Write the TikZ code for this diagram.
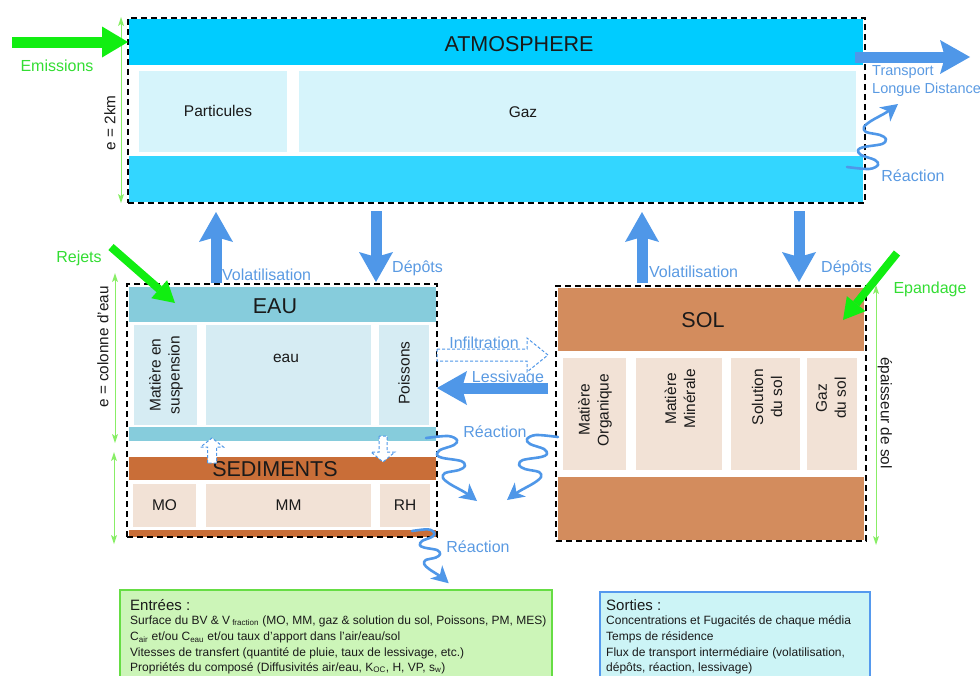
\documentclass[tikz,border=0pt]{standalone}
\usepackage{fontspec}
\setmainfont{Liberation Sans}
\usetikzlibrary{arrows.meta}
\definecolor{atmA}{HTML}{00CCFF}
\definecolor{atmB}{HTML}{33D6FF}
\definecolor{atmSub}{HTML}{D6F4FB}
\definecolor{eauA}{HTML}{86CCDC}
\definecolor{eauSub}{HTML}{D6ECF3}
\definecolor{sedA}{HTML}{C96E38}
\definecolor{sedSub}{HTML}{F2E2D6}
\definecolor{solA}{HTML}{D38C5D}
\definecolor{flow}{HTML}{4F97E8}
\definecolor{flowTxt}{HTML}{5A9AE2}
\definecolor{grA}{HTML}{11EE11}
\definecolor{grTxt}{HTML}{33DD33}
\definecolor{grLine}{HTML}{88EE66}
\definecolor{inBox}{HTML}{CCF5B8}
\definecolor{inEdge}{HTML}{66DD44}
\definecolor{outBox}{HTML}{CCF4F6}
\definecolor{outEdge}{HTML}{5599EE}
\definecolor{ink}{HTML}{1A1A1A}
\begin{document}
\begin{tikzpicture}[x=1pt,y=-1pt,
  fbox/.style={inner sep=0pt, outer sep=0pt, draw=none, text=ink},
  frame/.style={draw=black, line width=2.4pt, dash pattern=on 6pt off 4pt, fill=none, inner sep=0pt, outer sep=0pt},
  big/.style={font=\fontsize{21.5}{24}\selectfont, text=ink, inner sep=0pt},
  sub/.style={font=\fontsize{15.5}{19}\selectfont, align=center, text=ink},
  flab/.style={font=\fontsize{16}{19}\selectfont, text=flowTxt, inner sep=0pt},
  tlab/.style={font=\fontsize{14.5}{17}\selectfont, text=flowTxt, inner sep=0pt},
  glab/.style={font=\fontsize{16}{19}\selectfont, text=grTxt, inner sep=0pt},
  dlab/.style={font=\fontsize{15.3}{18}\selectfont, text=ink, inner sep=0pt},
  bigflow/.style={draw=flow, line width=11pt, -{Stealth[length=30pt 0 0, width=34pt 0 0, inset=5pt 0, line width=0pt 0 0]}},
  grarrow/.style={draw=grA, line width=11pt, -{Triangle[length=26pt 0 0, width=31pt 0 0, line width=0pt 0 0]}},
  grsmall/.style={draw=grA, line width=8pt, -{Triangle[length=21pt 0 0, width=24pt 0 0, line width=0pt 0 0]}},
  dimline/.style={draw=grLine, line width=1pt, {Stealth[length=9pt 0 0, width=6pt 0 0, inset=2pt 0, line width=0pt 0 0]}-{Stealth[length=9pt 0 0, width=6pt 0 0, inset=2pt 0, line width=0pt 0 0]}},
  hollow/.style={draw=flow, line width=1pt, dash pattern=on 3pt off 2pt, fill=white},
  squig/.style={draw=flow, line width=2.6pt, line join=round, line cap=round, -{Stealth[length=17pt 0 0, width=18pt 0 0, inset=5pt 0, line width=0pt 0 0]}},
  meander/.pic={\draw[squig] plot[smooth, tension=0.55] coordinates {(0,0) (22,-2) (31,2) (28,7) (14,12) (11,17) (17,20) (35,23) (39,28) (33,32) (19,35) (17,40) (24,46) (40,55) (51,63)};},
  boxtxt/.style={font=\fontsize{12}{14}\selectfont, text=ink, inner sep=0pt, anchor=base west},
  boxtitle/.style={font=\fontsize{15}{18}\selectfont, text=ink, inner sep=0pt, anchor=base west}
]
\useasboundingbox (0,0) rectangle (980,675);

% ---------------- ATMOSPHERE ----------------
\node[fbox, fill=atmA, minimum width=734pt, minimum height=46pt] (atmTop) at (496,42) {};
\node[fbox, fill=atmSub, minimum width=148pt, minimum height=81pt] (part) at (213,111.5) {};
\node[fbox, fill=atmSub, minimum width=557pt, minimum height=81pt] (gaz) at (577.5,111.5) {};
\node[fbox, fill=atmB, minimum width=734pt, minimum height=46pt] (atmBot) at (496,179) {};
\node[frame, minimum width=737pt, minimum height=185pt] (atm) at (496.5,110.5) {};
\node[big] (tAtm) at (519,44) {ATMOSPHERE};
\node[sub] (tPart) at (218,111) {Particules};
\node[sub] (tGaz) at (523,112) {Gaz};

% ---------------- EAU / SEDIMENTS ----------------
\node[fbox, fill=eauA, minimum width=307pt, minimum height=35pt] (eauTop) at (282.5,304.5) {};
\node[fbox, fill=eauSub, minimum width=63pt, minimum height=100pt] (mes) at (165.5,375) {};
\node[fbox, fill=eauSub, minimum width=165pt, minimum height=100pt] (eauW) at (288.5,375) {};
\node[fbox, fill=eauSub, minimum width=50pt, minimum height=100pt] (poi) at (404,375) {};
\node[fbox, fill=eauA, minimum width=307pt, minimum height=14pt] (eauBot) at (282.5,434) {};
\node[fbox, fill=sedA, minimum width=307pt, minimum height=23pt] (sedTop) at (282.5,468.5) {};
\node[fbox, sub, fill=sedSub, minimum width=63pt, minimum height=43pt] (sMO) at (164.5,505.5) {MO};
\node[fbox, sub, fill=sedSub, minimum width=165pt, minimum height=43pt] (sMM) at (288.5,505.5) {MM};
\node[fbox, sub, fill=sedSub, minimum width=50pt, minimum height=43pt] (sRH) at (405,505.5) {RH};
\node[fbox, fill=sedA, minimum width=307pt, minimum height=7pt] (sedBot) at (282.5,533.5) {};
\node[frame, minimum width=310pt, minimum height=253pt] (eauF) at (282,410.5) {};
\node[big] (tEau) at (275,306) {EAU};
\node[big] (tSed) at (275,469) {SEDIMENTS};
\node[sub, rotate=90] (tMes) at (166,375) {Matière en\\suspension};
\node[sub] (tEauW) at (286,358) {eau};
\node[sub, rotate=90] (tPoi) at (404,373) {Poissons};

% ---------------- SOL ----------------
\node[fbox, fill=solA, minimum width=306pt, minimum height=63pt] (solTop) at (711,319.5) {};
\node[fbox, fill=sedSub, minimum width=63pt, minimum height=112pt] (solMO) at (594.5,414) {};
\node[fbox, fill=sedSub, minimum width=86pt, minimum height=112pt] (solMM) at (679,414) {};
\node[fbox, fill=sedSub, minimum width=69pt, minimum height=112pt] (solSo) at (765.5,414) {};
\node[fbox, fill=sedSub, minimum width=50pt, minimum height=112pt] (solGa) at (832,414) {};
\node[fbox, fill=solA, minimum width=306pt, minimum height=63pt] (solBot) at (711,508.5) {};
\node[frame, minimum width=310pt, minimum height=255pt] (solF) at (711,413.5) {};
\node[big] (tSol) at (703,320) {SOL};
\node[sub, rotate=90] (tSMO) at (595,410) {Matière\\Organique};
\node[sub, rotate=90] (tSMM) at (680,399) {Matière\\Minérale};
\node[sub, rotate=90] (tSSo) at (767,397) {Solution\\du sol};
\node[sub, rotate=90] (tSGa) at (831,398) {Gaz\\du sol};

% ---------------- dimension lines ----------------
\coordinate (d1a) at (121,17);  \coordinate (d1b) at (121,203);
\draw[dimline] (d1a) -- (d1b);
\node[dlab, rotate=90] (tD1) at (110,123) {e = 2km};
\coordinate (d2a) at (115,273); \coordinate (d2b) at (115,443);
\draw[dimline] (d2a) -- (d2b);
\node[dlab, rotate=90] (tD2) at (103,347) {e = colonne d'eau};
\coordinate (d3a) at (114,452); \coordinate (d3b) at (114,544);
\draw[dimline] (d3a) -- (d3b);
\coordinate (d4a) at (876,285); \coordinate (d4b) at (876,545);
\draw[dimline] (d4a) -- (d4b);
\node[dlab, rotate=-90] (tD4) at (885,413) {épaisseur de sol};

% ---------------- green inputs ----------------
\coordinate (emS) at (12,42); \coordinate (emE) at (128,42);
\draw[grarrow] (emS) -- (emE);
\node[glab] (tEm) at (57,66) {Emissions};
\coordinate (rjS) at (111,247); \coordinate (rjE) at (175,303);
\draw[grsmall] (rjS) -- (rjE);
\node[glab] (tRj) at (79,258) {Rejets};
\coordinate (epS) at (897,253); \coordinate (epE) at (843,320);
\draw[grsmall] (epS) -- (epE);
\node[glab] (tEp) at (930,289) {Epandage};

% ---------------- blue flows ----------------
\coordinate (v1a) at (216,283); \coordinate (v1b) at (216,212);
\draw[bigflow] (v1a) -- (v1b);
\node[flab, anchor=west] (tV1) at (222,275) {Volatilisation};
\coordinate (p1a) at (376,211); \coordinate (p1b) at (376,282);
\draw[bigflow] (p1a) -- (p1b);
\node[flab, anchor=west] (tP1) at (392,268) {Dépôts};
\coordinate (v2a) at (642,283); \coordinate (v2b) at (642,212);
\draw[bigflow] (v2a) -- (v2b);
\node[flab, anchor=west] (tV2) at (649,272) {Volatilisation};
\coordinate (p2a) at (799,211); \coordinate (p2b) at (799,282);
\draw[bigflow] (p2a) -- (p2b);
\node[flab, anchor=west] (tP2) at (821,268) {Dépôts};

\coordinate (trA) at (855,57); \coordinate (trB) at (970,57);
\draw[bigflow] (trA) -- (trB);
\node[tlab, anchor=west] (tTr1) at (872,72) {Transport};
\node[tlab, anchor=west] (tTr2) at (872,90) {Longue Distance};

\coordinate (lsA) at (548,388); \coordinate (lsB) at (437,388);
\draw[bigflow] (lsA) -- (lsB);
\node[flab] (tLs) at (508,378) {Lessivage};

% Infiltration (hollow dashed)
\coordinate (inf) at (437,355);
\draw[hollow] (inf) ++(0,-6) -- ++(90,0) -- ++(0,-11) -- ++(21,17) -- ++(-21,17) -- ++(0,-11) -- ++(-90,0) -- cycle;
\node[flab] (tInf) at (484,343) {Infiltration};

% sediment exchange (hollow dashed)
\coordinate (sxU) at (212,463);
\draw[hollow] (sxU) ++(-4.5,0) -- ++(0,-16) -- ++(-7,0) -- ++(11.5,-9) -- ++(11.5,9) -- ++(-7,0) -- ++(0,16) -- cycle;
\coordinate (sxD) at (383,436);
\draw[hollow] (sxD) ++(-4,0) -- ++(0,16) -- ++(-8,0) -- ++(12,10) -- ++(12,-10) -- ++(-8,0) -- ++(0,-16) -- cycle;

% ---------------- reactions ----------------
\coordinate (r1) at (426,438);
\pic[shift={(r1)}] {meander};
\coordinate (r2) at (558,437);
\pic[shift={(r2)}, xscale=-1] {meander};
\node[flab] (tR1) at (495,432) {Réaction};
\coordinate (r3) at (412,531);
\pic[shift={(r3)}, xscale=0.72, yscale=0.83] {meander};
\node[flab] (tR3) at (478,547) {Réaction};
\coordinate (r4) at (847,167);
\pic[shift={(r4)}, yscale=-1] {meander};
\node[flab] (tR4) at (913,176) {Réaction};

% ---------------- input / output boxes ----------------
\node[draw=inEdge, line width=2.5pt, fill=inBox, minimum width=432pt, minimum height=95pt, inner sep=0pt] (inB) at (336,637.5) {};
\node[boxtitle] (inT) at (130,610) {Entrées :};
\node[boxtxt] (in1) at (130,624) {Surface du BV \& V\,\textsubscript{fraction} (MO, MM, gaz \& solution du sol, Poissons, PM, MES)};
\node[boxtxt] (in2) at (130,640.5) {C\textsubscript{air} et/ou C\textsubscript{eau} et/ou taux d'apport dans l'air/eau/sol};
\node[boxtxt] (in3) at (130,656) {Vitesses de transfert (quantité de pluie, taux de lessivage, etc.)};
\node[boxtxt] (in4) at (130,671) {Propriétés du composé (Diffusivités air/eau, K\textsubscript{OC}, H, VP, s\textsubscript{w})};

\node[draw=outEdge, line width=2.5pt, fill=outBox, minimum width=270pt, minimum height=93pt, inner sep=0pt] (outB) at (735,638.5) {};
\node[boxtitle] (outT) at (606,610) {Sorties :};
\node[boxtxt] (out1) at (606,624) {Concentrations et Fugacités de chaque média};
\node[boxtxt] (out2) at (606,640) {Temps de résidence};
\node[boxtxt] (out3) at (606,656) {Flux de transport intermédiaire (volatilisation,};
\node[boxtxt] (out4) at (606,671) {dépôts, réaction, lessivage)};
\end{tikzpicture}
\end{document}
